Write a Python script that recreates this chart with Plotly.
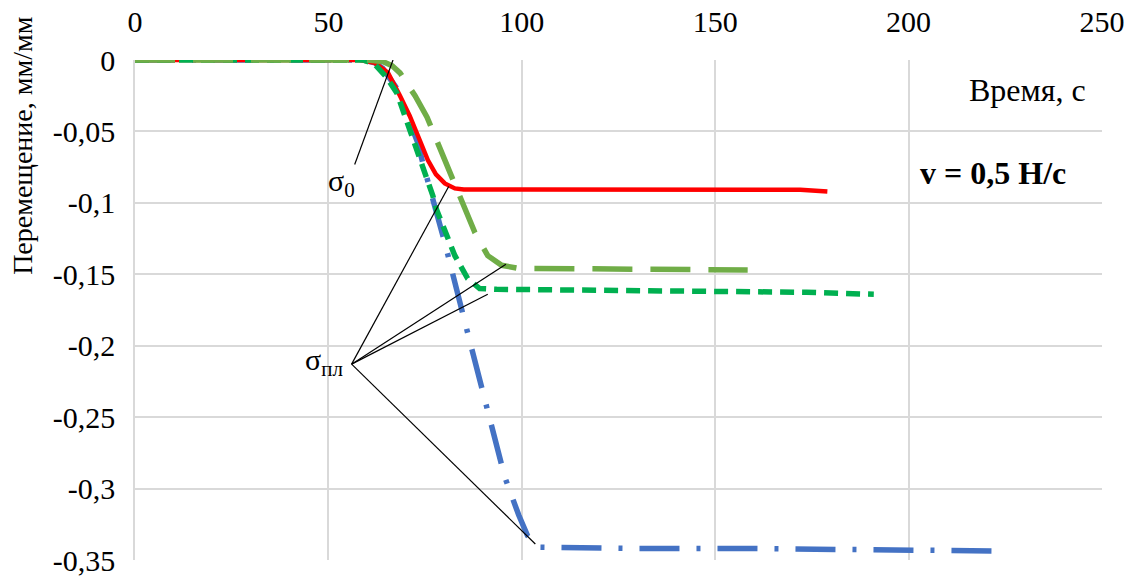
import plotly.graph_objects as go

# Time (s) and displacement (mm/mm) for four loading runs at v = 0.5 N/s
t_red = [0, 20, 40, 58, 62, 65.4, 68.5, 71, 73.6, 75.7, 77.8, 80.1, 82.7, 85, 100, 130, 160, 172, 179]
d_red = [0, 0, 0, 0, -0.002, -0.009, -0.025, -0.039, -0.056, -0.070, -0.080, -0.0864, -0.0899, -0.0906,
         -0.0906, -0.0906, -0.0906, -0.0908, -0.092]

t_lgreen = [0, 20, 40, 60, 64, 66.5, 68.5, 72.4, 75.5, 78.8, 81.4, 85.8, 87.9, 91.2, 94.8, 99, 110, 130, 150, 158.4]
d_lgreen = [0, 0, 0, 0, -0.001, -0.004, -0.009, -0.025, -0.040, -0.062, -0.079, -0.107, -0.121, -0.137,
            -0.1437, -0.1458, -0.146, -0.146, -0.1468, -0.147]

t_dgreen = [0, 20, 40, 59, 62, 65, 67.7, 71.6, 74.2, 77, 78, 82.7, 86, 89.1, 93.5, 120, 150, 173.6, 191]
d_dgreen = [0, 0, 0, 0, -0.003, -0.012, -0.023, -0.053, -0.072, -0.095, -0.105, -0.137, -0.153, -0.160,
            -0.1605, -0.161, -0.1615, -0.1626, -0.164]

t_blue = [0, 20, 40, 59, 62, 64.1, 67.7, 69.8, 73.1, 74.4, 80.1, 85.3, 90.4, 95.6, 99.2, 101.5, 104.1,
          130, 160, 200, 223.5]
d_blue = [0, 0, 0, 0, -0.002, -0.006, -0.020, -0.035, -0.058, -0.072, -0.128, -0.1836, -0.2367, -0.292,
          -0.3185, -0.333, -0.341, -0.342, -0.342, -0.3425, -0.3437]

# Leader lines: label anchor point -> curve knee points
sigma0_from = (56.8, -0.0731)
sigma0_to = [(66.7, 0.0)]
sigmapl_from = (56.0, -0.2129)
sigmapl_to = [(81.1, -0.0885), (95.9, -0.143), (91.2, -0.164), (103.5, -0.3388)]

x_ticks = [0, 50, 100, 150, 200, 250]
x_tick_labels = ["0", "50", "100", "150", "200", "250"]
y_ticks = [0, -0.05, -0.1, -0.15, -0.2, -0.25, -0.3, -0.35]
y_tick_labels = ["0", "-0,05", "-0,1", "-0,15", "-0,2", "-0,25", "-0,3", "-0,35"]

FONT = "'Liberation Serif', 'Times New Roman', 'DejaVu Serif', serif"
GRID = "#D9D9D9"
FS_TICK = 30
FS_NOTE = 32

fig = go.Figure()

fig.add_trace(go.Scatter(x=t_blue, y=d_blue, mode="lines",
                         line=dict(color="#4472C4", width=5.5, dash="40px,17px,4px,17px")))
fig.add_trace(go.Scatter(x=t_red, y=d_red, mode="lines",
                         line=dict(color="#FF0000", width=4.5)))
fig.add_trace(go.Scatter(x=t_dgreen, y=d_dgreen, mode="lines",
                         line=dict(color="#00B050", width=5.5, dash="14px,8px")))
fig.add_trace(go.Scatter(x=t_lgreen, y=d_lgreen, mode="lines",
                         line=dict(color="#70AD47", width=5.5, dash="40px,18px")))

for (x0, y0), targets in ((sigma0_from, sigma0_to), (sigmapl_from, sigmapl_to)):
    for (x1, y1) in targets:
        fig.add_shape(type="line", x0=x0, y0=y0, x1=x1, y1=y1, xref="x", yref="y",
                      line=dict(color="black", width=1.2))

fig.add_annotation(x=53.5, y=-0.0864, text="σ<sub>0</sub>", showarrow=False,
                   font=dict(family=FONT, size=FS_TICK, color="black"))
fig.add_annotation(x=48.8, y=-0.2115, text="σ<sub>пл</sub>", showarrow=False,
                   font=dict(family=FONT, size=FS_TICK, color="black"))
fig.add_annotation(x=246.3, y=-0.0213, text="Время, с", showarrow=False, xanchor="right",
                   font=dict(family=FONT, size=FS_NOTE, color="black"))
fig.add_annotation(x=241.3, y=-0.0794, text="<b>v = 0,5 Н/с</b>", showarrow=False, xanchor="right",
                   font=dict(family=FONT, size=FS_NOTE, color="black"))
fig.add_annotation(x=-0.117, y=0.83, xref="paper", yref="paper", text="Перемещение, мм/мм",
                   textangle=-90, showarrow=False, xanchor="center", yanchor="middle",
                   font=dict(family=FONT, size=28, color="black"))

fig.update_layout(
    width=1140, height=577,
    margin=dict(l=135, r=38, t=60, b=17),
    paper_bgcolor="white", plot_bgcolor="white",
    showlegend=False,
    font=dict(family=FONT, size=FS_TICK, color="black"),
)
fig.update_xaxes(range=[0, 250], side="top", tickvals=x_ticks, ticktext=x_tick_labels,
                 showgrid=True, gridcolor=GRID, gridwidth=1.5, zeroline=False, automargin=False,
                 showline=False, ticks="outside", ticklen=15, tickcolor="rgba(0,0,0,0)",
                 tickfont=dict(family=FONT, size=FS_TICK, color="black"))
fig.update_yaxes(range=[-0.35, 0], tickvals=y_ticks, ticktext=y_tick_labels,
                 showgrid=True, gridcolor=GRID, gridwidth=1.5, zeroline=False, automargin=False,
                 showline=True, linecolor=GRID, linewidth=1.5,
                 ticks="outside", ticklen=12, tickcolor="rgba(0,0,0,0)",
                 tickfont=dict(family=FONT, size=FS_TICK, color="black"))

fig.write_html("out.html")
